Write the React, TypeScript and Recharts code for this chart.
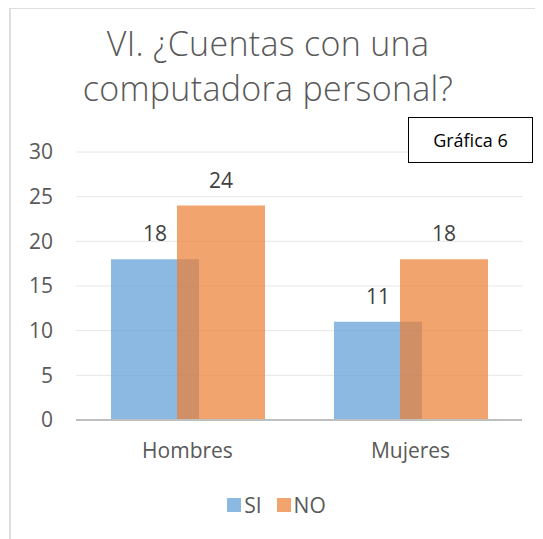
import React from 'react';
import { Bar, BarChart, CartesianGrid, LabelList, Legend, XAxis, YAxis } from 'recharts';

const categories = ['Hombres', 'Mujeres'];
const siValues = [18, 11];
const noValues = [24, 18];
const yTicks = [0, 5, 10, 15, 20, 25, 30];

const FONT = '"Open Sans", "Noto Sans", sans-serif';
const SI_FILL = '#5B9BD5';
const NO_FILL = '#ED7D31';

const chartData = categories.map((name, i) => ({
  name,
  SI: siValues[i],
  NO: noValues[i],
}));

function LegendContent() {
  const items = [
    { label: 'SI', color: '#8CB9E2' },
    { label: 'NO', color: '#F2A46F' },
  ];
  return (
    <div style={{ display: 'flex', justifyContent: 'center', alignItems: 'center', fontFamily: FONT }}>
      {items.map((item, i) => (
        <div
          key={item.label}
          style={{ display: 'flex', alignItems: 'center', marginLeft: i === 0 ? 0 : 15 }}
        >
          <span style={{ width: 14, height: 14, background: item.color, display: 'inline-block', marginRight: 3 }} />
          <span style={{ fontSize: 21, color: '#595959', lineHeight: '28px' }}>{item.label}</span>
        </div>
      ))}
    </div>
  );
}

export default function App() {
  return (
    <div style={{ position: 'relative', width: 533, height: 531, marginLeft: 2, fontFamily: FONT }}>
      {/* chart frame, only top and left edges are visible */}
      <div
        style={{
          position: 'absolute',
          left: -1,
          top: -1,
          width: 535,
          height: 533,
          borderTop: '2px solid #dedede',
          borderLeft: '2px solid #dedede',
          boxSizing: 'border-box',
        }}
      />
      <div
        style={{
          position: 'absolute',
          left: 0,
          top: 13,
          width: 516,
          textAlign: 'center',
          fontSize: 34,
          fontWeight: 300,
          letterSpacing: 0.3,
          lineHeight: '45px',
          color: '#595959',
        }}
      >
        VI. ¿Cuentas con una
        <br />
        computadora personal?
      </div>
      <BarChart
        width={533}
        height={531}
        data={chartData}
        margin={{ top: 144, right: 21, bottom: 59, left: 0 }}
        barGap={-22}
      >
        <CartesianGrid vertical={false} stroke="#e6e6e6" strokeWidth={1} />
        <XAxis
          dataKey="name"
          height={60}
          tickSize={0}
          tickMargin={23}
          axisLine={{ stroke: '#bfbfbf', strokeWidth: 2 }}
          tick={{ fill: '#595959', fontSize: 21, fontFamily: FONT }}
        />
        <YAxis
          width={66}
          domain={[0, 30]}
          ticks={yTicks}
          axisLine={false}
          tickLine={false}
          tickSize={0}
          tickMargin={23}
          tick={{ fill: '#595959', fontSize: 21, fontFamily: FONT }}
        />
        <Legend
          layout="horizontal"
          verticalAlign="middle"
          align="center"
          wrapperStyle={{ top: 483, left: 0, width: 533 }}
          content={<LegendContent />}
        />
        <Bar dataKey="SI" fill={SI_FILL} fillOpacity={0.7} barSize={88} isAnimationActive={false}>
          <LabelList dataKey="SI" position="top" offset={18} fill="#404040" fontSize={21} fontFamily={FONT} />
        </Bar>
        <Bar dataKey="NO" fill={NO_FILL} fillOpacity={0.7} barSize={88} isAnimationActive={false}>
          <LabelList dataKey="NO" position="top" offset={18} fill="#404040" fontSize={21} fontFamily={FONT} />
        </Bar>
      </BarChart>
      <div
        style={{
          position: 'absolute',
          left: 398,
          top: 109,
          width: 125,
          height: 46,
          border: '1.5px solid #000',
          boxSizing: 'border-box',
          background: '#fff',
          display: 'flex',
          alignItems: 'center',
          justifyContent: 'center',
          fontSize: 18,
          color: '#000',
        }}
      >
        Gráfica 6
      </div>
    </div>
  );
}
